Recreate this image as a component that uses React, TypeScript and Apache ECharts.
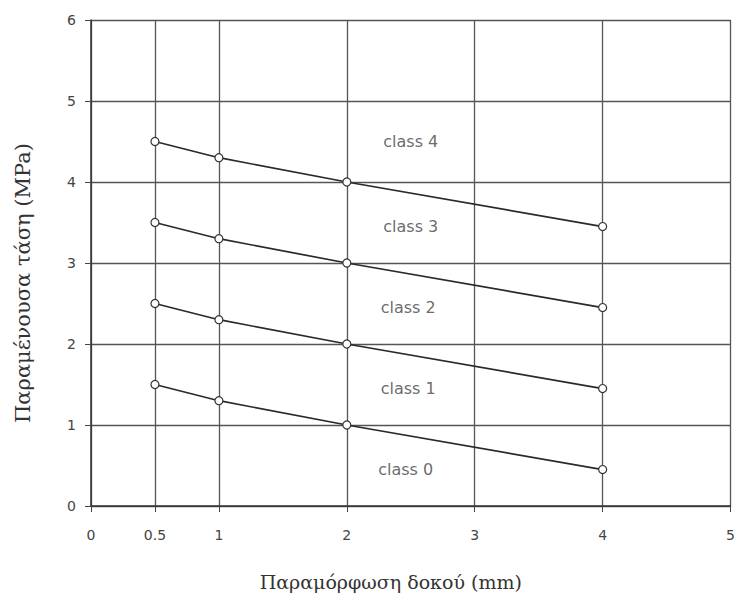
import React, { useEffect, useRef } from "react";
import * as echarts from "echarts";

const xValues = [0.5, 1, 2, 4];
const class4 = [4.5, 4.3, 4.0, 3.45];
const class3 = [3.5, 3.3, 3.0, 2.45];
const class2 = [2.5, 2.3, 2.0, 1.45];
const class1 = [1.5, 1.3, 1.0, 0.45];
const seriesValues = [class4, class3, class2, class1];
const labelNames = ["class 4", "class 3", "class 2", "class 1", "class 0"];
const labelX = [2.5, 2.5, 2.48, 2.48, 2.46];
const labelY = [4.5, 3.45, 2.45, 1.45, 0.45];
const xTickLabels = [0, 0.5, 1, 2, 3, 4, 5];
const xTicks = [0, 0.5, 1, 2, 3, 4, 5];

export default function App() {
  const ref = useRef<HTMLDivElement>(null);
  useEffect(() => {
    if (!ref.current) return;
    const chart = echarts.init(ref.current, null, { renderer: "svg" });
    const lineSeries = seriesValues.map((vals, i) => ({
      type: "line",
      name: labelNames[i],
      data: xValues.map((x, j) => [x, vals[j]]),
      symbol: "circle",
      symbolSize: 8,
      showAllSymbol: true,
      lineStyle: { color: "#2a2a2a", width: 1.7 },
      itemStyle: { color: "#ffffff", borderColor: "#333", borderWidth: 1.2 },
      z: 3,
    }));
    chart.setOption({
      animation: false,
      backgroundColor: "#ffffff",
      grid: { left: 91, right: 5, top: 20, bottom: 92 },
      xAxis: {
        type: "value",
        min: 0,
        max: 5,
        interval: 1,
        name: "Παραμόρφωση δοκού (mm)",
        nameLocation: "middle",
        nameGap: 66,
        nameTextStyle: {
          fontFamily: "DejaVu Serif",
          fontSize: 19,
          color: "#333",
          padding: [0, 40, 0, 0],
        },
        axisLine: { show: true, lineStyle: { color: "#333", width: 1.5 } },
        axisTick: { show: true, length: 6, customValues: xTicks, lineStyle: { color: "#444" } },
        axisLabel: {
          customValues: xTickLabels,
          margin: 22,
          fontFamily: "DejaVu Sans",
          fontSize: 14,
          color: "#444",
        },
        splitLine: { show: true, lineStyle: { color: "#555", width: 1.3 } },
      },
      yAxis: {
        type: "value",
        min: 0,
        max: 6,
        interval: 1,
        name: "Παραμένουσα τάση (MPa)",
        nameLocation: "middle",
        nameGap: 58,
        nameTextStyle: {
          fontFamily: "DejaVu Serif",
          fontSize: 21,
          color: "#333",
          padding: [0, 40, 0, 0],
        },
        axisLine: { show: true, lineStyle: { color: "#333", width: 1.5 } },
        axisTick: { show: true, length: 6, lineStyle: { color: "#444" } },
        axisLabel: {
          margin: 15,
          fontFamily: "DejaVu Sans",
          fontSize: 14,
          color: "#444",
        },
        splitLine: { show: true, lineStyle: { color: "#555", width: 1.3 } },
      },
      series: [
        ...lineSeries,
        {
          type: "scatter",
          symbol: "circle",
          symbolSize: 1,
          itemStyle: { color: "rgba(0,0,0,0)" },
          data: labelNames.map((n, i) => ({ value: [labelX[i], labelY[i]], name: n })),
          label: {
            show: true,
            position: "inside",
            formatter: (p: any) => p.name,
            fontFamily: "DejaVu Sans",
            fontSize: 16,
            color: "#444",
          },
          z: 4,
        },
      ],
    });
    return () => chart.dispose();
  }, []);
  return (
    <div
      ref={ref}
      style={{ position: "absolute", left: 0, top: 0, width: 738, height: 598 }}
    />
  );
}
